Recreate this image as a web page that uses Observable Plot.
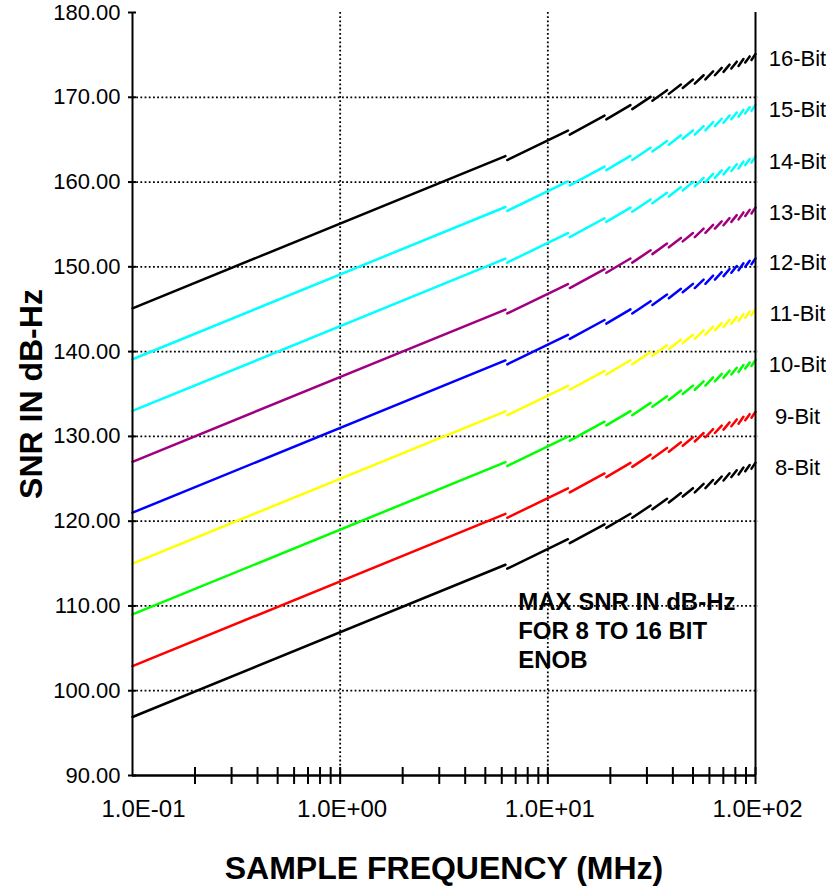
<!DOCTYPE html>
<html><head><meta charset="utf-8">
<script src="https://cdn.jsdelivr.net/npm/d3@7"></script>
<script src="https://cdn.jsdelivr.net/npm/@observablehq/plot@0.6"></script>
<style>body{margin:0;background:#fff}#chart{width:826px;height:895px}</style>
</head><body><div id="chart"></div>
<script>
// ---- data ----
const bitLabels = ["8-Bit","9-Bit","10-Bit","11-Bit","12-Bit","13-Bit","14-Bit","15-Bit","16-Bit"];
const bitColors = ["#000000","#ff0000","#00ff00","#ffff00","#0000ff","#a0007f","#00ffff","#00ffff","#000000"];
// SNR (dB-Hz) at 0.1 MHz for each ENOB
const snrAtStart = [96.9, 102.9, 109.0, 115.0, 121.0, 127.0, 133.0, 139.1, 145.1];
// segment breakpoints (MHz)
const segStartFreq = [0.1, 6.25, 12.5, 18.75, 25, 31.25, 37.5, 43.75, 50, 56.25, 62.5, 68.75, 75, 81.25, 87.5, 93.75];
const segEndFreq   = [6.25, 12.5, 18.75, 25, 31.25, 37.5, 43.75, 50, 56.25, 62.5, 68.75, 75, 81.25, 87.5, 93.75, 100];
// rise (dB) above the 0.1 MHz value at the start and end of each segment
const segStartRise = [0, 17.5, 20.5, 22.3, 23.5, 24.5, 25.3, 26.0, 26.5, 27.0, 27.5, 27.9, 28.3, 28.6, 29.0, 29.3];
const segEndRise   = [17.96, 20.97, 22.73, 23.98, 24.95, 25.74, 26.41, 26.99, 27.50, 27.96, 28.37, 28.75, 29.10, 29.42, 29.72, 30.0];
const xTickValues = [0.1, 1, 10, 100];
const xTickLabels = ["1.0E-01","1.0E+00","1.0E+01","1.0E+02"];
const xMinorTicks = [0.2,0.3,0.4,0.5,0.6,0.7,0.8,0.9,1,2,3,4,5,6,7,8,9,10,20,30,40,50,60,70,80,90,100];
const xGrid = [1, 10];
const yTickValues = [90,100,110,120,130,140,150,160,170,180];
const yTickLabels = ["90.00","100.00","110.00","120.00","130.00","140.00","150.00","160.00","170.00","180.00"];
const yGrid = [100,110,120,130,140,150,160,170];
const xTitle = "SAMPLE FREQUENCY (MHz)";
const yTitle = "SNR IN dB-Hz";
const note = [{text: "MAX SNR IN dB-Hz\nFOR 8 TO 16 BIT\nENOB", f: 7.2, snr: 107.2}];

// ---- build table ----
const gap = 1.02;
const rows = [];
bitLabels.forEach((b, i) => {
  segStartFreq.forEach((f0, k) => {
    const key = b + "-" + k;
    rows.push({bit: b, key, f: k === 0 ? f0 : f0 * gap, snr: snrAtStart[i] + segStartRise[k]});
    rows.push({bit: b, key, f: segEndFreq[k], snr: snrAtStart[i] + segEndRise[k]});
  });
});
const endSnr = bitLabels.map((b, i) => snrAtStart[i] + segEndRise[segEndRise.length - 1]);
const xLabelRows = xTickValues.map((v, i) => ({v, label: xTickLabels[i]}));

const chart = Plot.plot({
  width: 826, height: 895,
  marginLeft: 132, marginRight: 71, marginTop: 12, marginBottom: 120,
  style: {fontFamily: "'Liberation Sans', Arial, sans-serif", fontSize: "20px", color: "#000", background: "#fff"},
  x: {type: "log", domain: [0.1, 100], axis: null},
  y: {domain: [90, 180], axis: null},
  color: {domain: bitLabels, range: bitColors},
  marks: [
    Plot.text(note, {x: "f", y: "snr", text: "text", textAnchor: "start", lineAnchor: "middle", lineHeight: 1.2, fontWeight: "bold", fontSize: 24, fill: "#000"}),
    Plot.ruleY(yGrid, {y: d => d, stroke: "#000", strokeWidth: 1.8, strokeDasharray: "1.8,2.4", insetRight: -3}),
    Plot.ruleX(xGrid, {x: d => d, stroke: "#000", strokeWidth: 1.8, strokeDasharray: "1.8,2.4"}),
    Plot.line(rows, {x: "f", y: "snr", z: "key", stroke: "bit", strokeWidth: 2.5}),
    Plot.ruleX([0.1], {x: d => d, stroke: "#000", strokeWidth: 2}),
    Plot.ruleX([100], {x: d => d, stroke: "#000", strokeWidth: 2}),
    Plot.ruleY([90], {y: d => d, stroke: "#000", strokeWidth: 2.5}),
    Plot.ruleX(xMinorTicks, {x: d => d, y1: 90, y2: 90, insetTop: 9, insetBottom: 8, stroke: "#000", strokeWidth: 2}),
    Plot.ruleY(yTickValues, {y: d => d, x1: 0.1, x2: 0.1, insetLeft: -4, insetRight: -4, stroke: "#000", strokeWidth: 2}),
    Plot.text(yTickValues, {y: d => d, frameAnchor: "left", text: (d, i) => yTickLabels[i], textAnchor: "end", lineAnchor: "middle", dx: -12, fontSize: 22}),
    Plot.text(xLabelRows.slice(0, 1), {x: "v", frameAnchor: "bottom", text: "label", textAnchor: "middle", lineAnchor: "middle", dx: 11, dy: 34, fontSize: 24}),
    Plot.text(xLabelRows.slice(1), {x: "v", frameAnchor: "bottom", text: "label", textAnchor: "middle", lineAnchor: "middle", dx: 2, dy: 34, fontSize: 24}),
    Plot.text(bitLabels, {y: (d, i) => endSnr[i], frameAnchor: "right", text: d => d, textAnchor: "middle", lineAnchor: "middle", dx: 42, dy: 5, fontSize: 22}),
    Plot.text([xTitle], {frameAnchor: "bottom", text: d => d, textAnchor: "middle", lineAnchor: "middle", dy: 93, fontWeight: "bold", fontSize: 32}),
    Plot.text([yTitle], {frameAnchor: "left", text: d => d, textAnchor: "middle", lineAnchor: "middle", dx: -101, rotate: -90, fontWeight: "bold", fontSize: 32})
  ]
});
document.getElementById("chart").append(chart);
</script>
</body></html>
